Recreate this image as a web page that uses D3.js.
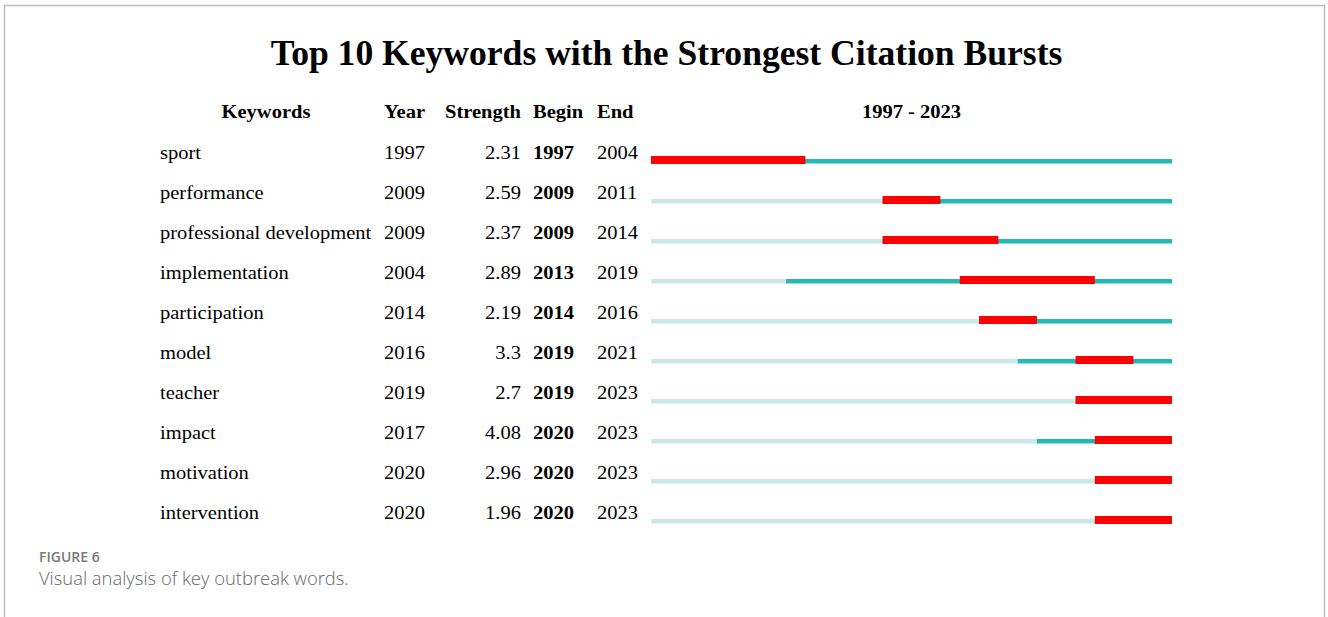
<!DOCTYPE html>
<html>
<head>
<meta charset="utf-8">
<script src="https://cdn.jsdelivr.net/npm/d3@7"></script>
<style>
  html, body { margin: 0; padding: 0; background: #fff; }
  svg { display: block; }
</style>
</head>
<body>
<svg id="chart" width="1328" height="617"></svg>
<script>
// ---- Data ----
const keywords  = ["sport", "performance", "professional development", "implementation", "participation", "model", "teacher", "impact", "motivation", "intervention"];
const years     = [1997, 2009, 2009, 2004, 2014, 2016, 2019, 2017, 2020, 2020];
const strengths = ["2.31", "2.59", "2.37", "2.89", "2.19", "3.3", "2.7", "4.08", "2.96", "1.96"];
const begins    = [1997, 2009, 2009, 2013, 2014, 2019, 2019, 2020, 2020, 2020];
const ends      = [2004, 2011, 2014, 2019, 2016, 2021, 2023, 2023, 2023, 2023];
const rangeStart = 1997, rangeEnd = 2023;
const headers = ["Keywords", "Year", "Strength", "Begin", "End"];

const rows = keywords.map((k, i) => ({k, year: years[i], s: strengths[i], b: begins[i], e: ends[i]}));

const svg = d3.select("#chart");
const serif = "'Liberation Serif', 'Times New Roman', serif";
const sans = "'Open Sans', 'Noto Sans', sans-serif";
const SX = 1.08; // horizontal stretch of the table text

function txt(parent, x, y, s, anchor, sx) {
  return parent.append("text")
    .attr("transform", `translate(${x},${y}) scale(${sx || SX},1)`)
    .attr("text-anchor", anchor || "start")
    .text(s);
}

// frame
svg.append("path")
  .attr("d", "M4.5,617 V5.5 H1324.5 V617")
  .attr("fill", "none").attr("stroke", "#bdbdbd").attr("stroke-width", 1.5);

// title
const tg = svg.append("g").attr("font-family", serif).attr("font-weight", "bold").attr("font-size", 35).attr("fill", "#000");
txt(tg, 666.5, 65, "Top 10 Keywords with the Strongest Citation Bursts", "middle", 1.017);

// scales
const y = d3.scaleBand().domain(d3.range(rows.length)).range([138, 538]);
const x = d3.scaleLinear().domain([rangeStart, rangeEnd + 1]).range([651, 1172]);

const headerY = 118;
const cols = {kw: 160, year: 384, strRight: 521, begin: 533, end: 597};

const hdr = svg.append("g").attr("font-family", serif).attr("font-weight", "bold").attr("font-size", 19).attr("fill", "#000");
txt(hdr, 266, headerY, headers[0], "middle");
txt(hdr, cols.year, headerY, headers[1]);
txt(hdr, cols.strRight, headerY, headers[2], "end");
txt(hdr, cols.begin, headerY, headers[3]);
txt(hdr, cols.end, headerY, headers[4]);
txt(hdr, (x(rangeStart) + x(rangeEnd + 1)) / 2, headerY, rangeStart + " - " + rangeEnd, "middle");

const g = svg.append("g").attr("font-family", serif).attr("font-size", 19).attr("fill", "#000");
const row = g.selectAll("g.row").data(rows).join("g").attr("class", "row")
  .attr("transform", (d, i) => `translate(0,${y(i)})`);

const base = 20.5;
row.each(function(d) {
  const r = d3.select(this);
  txt(r, cols.kw, base, d.k);
  txt(r, cols.year, base, d.year);
  txt(r, cols.strRight, base, d.s, "end");
  txt(r, cols.begin, base, d.b).attr("font-weight", "bold");
  txt(r, cols.end, base, d.e);
});

// bars
const light = "#c9e9eb", teal = "#26b8b8", red = "#ff0000";
// light: range start to keyword year
row.append("rect")
  .attr("x", x(rangeStart)).attr("y", 21)
  .attr("width", d => x(d.year) - x(rangeStart)).attr("height", 4.5)
  .attr("fill", light);
// teal: keyword year to end
row.append("rect")
  .attr("x", d => x(d.year)).attr("y", 21)
  .attr("width", d => x(rangeEnd + 1) - x(d.year)).attr("height", 4.5)
  .attr("fill", teal);
// red: burst
row.append("rect")
  .attr("x", d => x(d.b)).attr("y", 18)
  .attr("width", d => x(d.e + 1) - x(d.b)).attr("height", 8)
  .attr("fill", red);

// caption
svg.append("text").attr("x", 39).attr("y", 562)
  .attr("font-family", sans).attr("font-size", 14).attr("font-weight", 600).attr("fill", "#7a7a7a")
  .text("FIGURE 6");
svg.append("text").attr("x", 39).attr("y", 585)
  .attr("font-family", sans).attr("font-size", 18.4).attr("font-weight", 300).attr("fill", "#666")
  .text("Visual analysis of key outbreak words.");
</script>
</body>
</html>
